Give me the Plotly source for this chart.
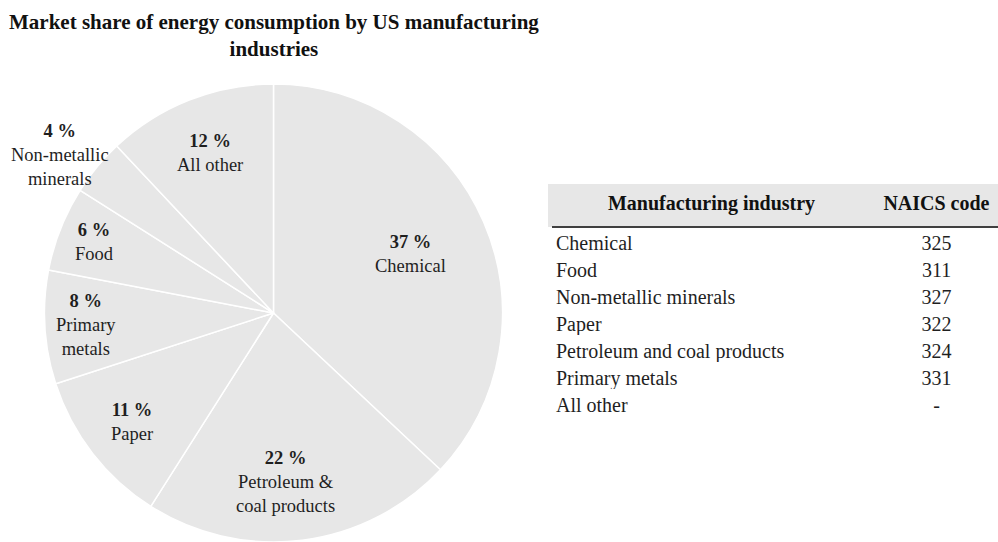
import math
import plotly.graph_objects as go

# ---- data ----
sectors = ["Chemical", "Petroleum & coal products", "Paper", "Primary metals",
           "Food", "Non-metallic minerals", "All other"]
sector_labels = ["Chemical", "Petroleum &<br>coal products", "Paper", "Primary<br>metals",
                 "Food", "Non-metallic<br>minerals", "All other"]
shares = [37, 22, 11, 8, 6, 4, 12]

table_industries = ["Chemical", "Food", "Non-metallic minerals", "Paper",
                    "Petroleum and coal products", "Primary metals", "All other"]
table_codes = ["325", "311", "327", "322", "324", "331", "-"]
table_headers = ["Manufacturing industry", "NAICS\u00a0code"]

title_text = "Market share of energy consumption by US manufacturing<br>industries"

# ---- styling / layout ----
W, H = 998, 542
FONT = "Liberation Serif, Times New Roman, serif"
TXT = "#1f1f1f"
GRAY = "#e7e7e7"

cx, cy, R = 273.5, 313.0, 229.0   # pie centre / radius in pixels
label_r = [0.65, 0.74, 0.78, 0.82, 0.84, 1.16, 0.75]   # label distance (fraction of radius)
label_da = [0, 3, 0, 0, 0, -3, 0]                       # label angle nudge (degrees)

fig = go.Figure()

fig.add_trace(go.Pie(
    labels=sectors, values=shares, sort=False, direction="clockwise", rotation=0,
    marker=dict(colors=[GRAY] * len(shares), line=dict(color="white", width=1.5)),
    textinfo="none", hoverinfo="label+percent", showlegend=False,
    domain=dict(x=[(cx - R) / W, (cx + R) / W], y=[1 - (cy + R) / H, 1 - (cy - R) / H]),
))

# slice labels, placed along each slice's mid angle
total = sum(shares)
cum = 0.0
for v, lab, lr, da in zip(shares, sector_labels, label_r, label_da):
    mid = (cum + v / 2) / total * 2 * math.pi + math.radians(da)
    cum += v
    px = cx + lr * R * math.sin(mid)
    py = cy - lr * R * math.cos(mid)
    fig.add_annotation(
        x=px / W, y=1 - py / H, xref="paper", yref="paper",
        xanchor="center", yanchor="middle", showarrow=False,
        text=f"<b>{v} %</b><br>{lab}", align="center",
        font=dict(family=FONT, size=18.5, color=TXT),
    )

# title
fig.add_annotation(
    x=cx / W, y=1 - 8 / H, xref="paper", yref="paper", xanchor="center", yanchor="top",
    showarrow=False, text=f"<b>{title_text}</b>", align="center",
    font=dict(family=FONT, size=21, color="#111111"),
)

# table
tx0 = 548
fig.add_trace(go.Table(
    domain=dict(x=[tx0 / W, 1.0], y=[0.15, 1 - 184 / H]),
    columnwidth=[327, 123],
    header=dict(
        values=[f"<b>{h}</b>" for h in table_headers],
        align=["center", "center"], height=43,
        fill=dict(color=GRAY), line=dict(color=GRAY, width=0),
        font=dict(family=FONT, size=20, color="#111111"),
    ),
    cells=dict(
        values=[table_industries, table_codes],
        align=["left", "center"], height=27,
        fill=dict(color="white"), line=dict(color="white", width=0),
        font=dict(family=FONT, size=20, color=TXT),
    ),
))

# header bottom rule
fig.add_shape(type="line", xref="paper", yref="paper",
              x0=552 / W, x1=1.0, y0=1 - 227 / H, y1=1 - 227 / H,
              line=dict(color="#404040", width=2))

fig.update_layout(
    width=W, height=H, margin=dict(l=0, r=0, t=0, b=0),
    paper_bgcolor="white", plot_bgcolor="white",
    font=dict(family=FONT, color=TXT),
)

fig.write_html("out.html")
